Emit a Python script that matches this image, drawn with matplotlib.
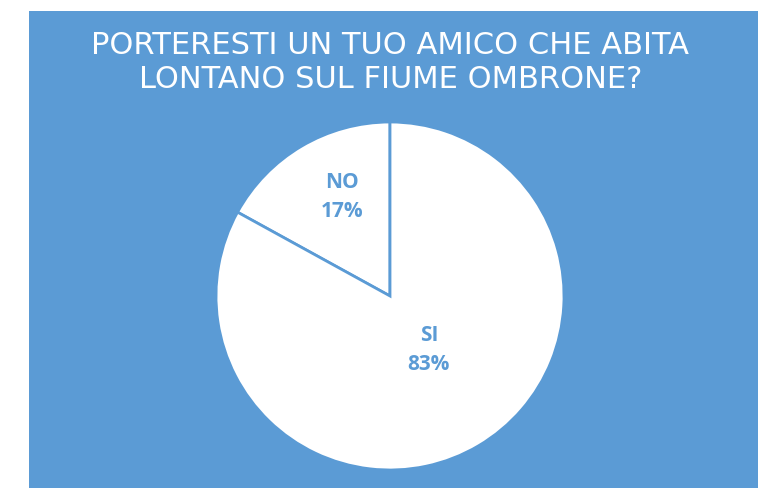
import numpy as np
import matplotlib
matplotlib.use("Agg")
import matplotlib.pyplot as plt
from matplotlib.patches import Rectangle

# --- data
labels = ["NO", "SI"]
values = [17, 83]
title_lines = ["PORTERESTI UN TUO AMICO CHE ABITA", "LONTANO SUL FIUME OMBRONE?"]

blue = "#5b9bd5"
label_blue = "#5b9bd5"

W, H = 758, 488
fig = plt.figure(figsize=(W / 100, H / 100), dpi=100)
fig.patch.set_facecolor("white")

# blue background panel
fig.add_artist(Rectangle((29 / W, 0), 1 - 29 / W, (H - 11) / H,
                         transform=fig.transFigure, facecolor=blue,
                         edgecolor="none", zorder=0))

# pie axes: centre (390, 296) px, radius 174 px
cx, cy, r = 390, 296, 174
pad = 1.02
ax = fig.add_axes([(cx - r * pad) / W, (H - cy - r * pad) / H,
                   2 * r * pad / W, 2 * r * pad / H])
ax.set_facecolor("none")

wedges, _ = ax.pie(values, startangle=90, counterclock=True,
                   colors=["white", "white"],
                   wedgeprops=dict(edgecolor=blue, linewidth=2))
ax.set_xlim(-pad, pad)
ax.set_ylim(-pad, pad)
ax.set_aspect("equal")
ax.axis("off")

# labels inside the slices
label_r = [0.66, 0.36]
shift = [0.06, 0.04]
for w, lab, v, lr, s in zip(wedges, labels, values, label_r, shift):
    ang = np.deg2rad((w.theta1 + w.theta2) / 2)
    x = lr * np.cos(ang) + s
    y = lr * np.sin(ang)
    ax.text(x, y, "%s\n%d%%" % (lab, v), ha="center", va="center",
            color=label_blue, fontsize=15, fontweight="bold",
            family="Open Sans", linespacing=1.5)

# title
fig.text(390 / W, 1 - 46 / H, title_lines[0], ha="center", va="center",
         color="white", fontsize=22, family="DejaVu Sans")
fig.text(391 / W, 1 - 79 / H, title_lines[1], ha="center", va="center",
         color="white", fontsize=22, family="DejaVu Sans")

fig.savefig("out.png", dpi=100, facecolor=fig.get_facecolor())
